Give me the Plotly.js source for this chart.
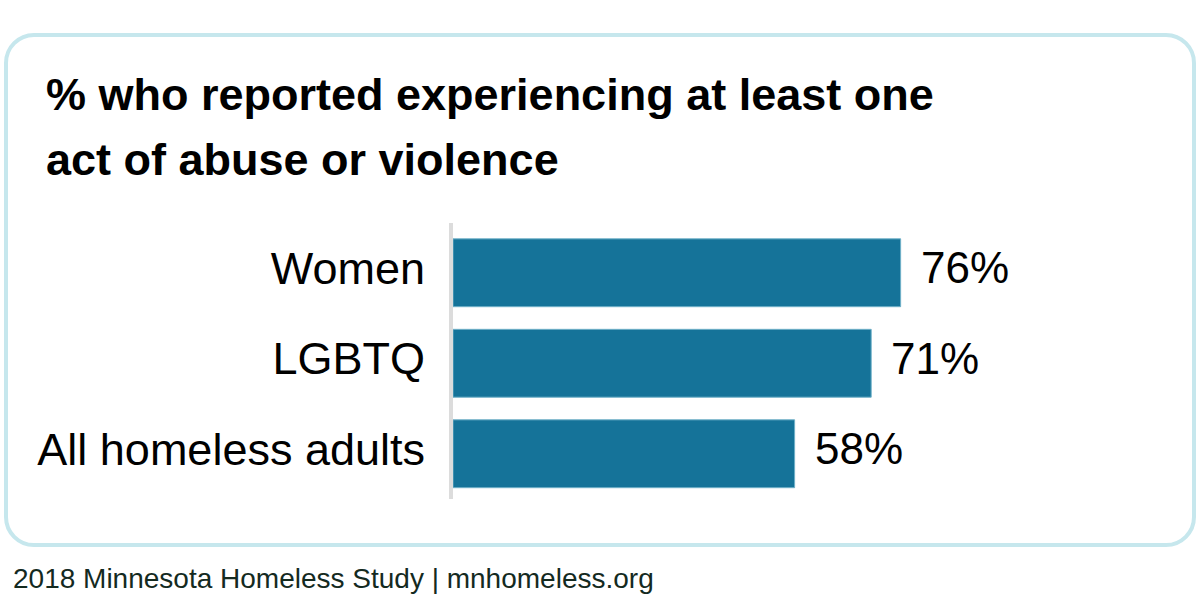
<!DOCTYPE html>
<html>
<head>
<meta charset="utf-8">
<script src="https://cdn.plot.ly/plotly-3.0.1.min.js"></script>
<style>
  html, body { margin: 0; padding: 0; background: #ffffff; }
  #wrap { position: relative; width: 1200px; height: 610px; }
  #frame {
    position: absolute; left: 4px; top: 33px; width: 1192px; height: 514px;
    box-sizing: border-box; border: 4px solid #c6e7ed; border-radius: 30px;
  }
  #chart { position: absolute; left: 0; top: 0; width: 1200px; height: 610px; }
</style>
</head>
<body>
<div id="wrap">
  <div id="frame"></div>
  <div id="chart"></div>
</div>
<script>
// Share of respondents reporting at least one act of abuse or violence
const groups = ["Women", "LGBTQ", "All homeless adults"];
const percents = [76, 71, 58];
const valueLabels = ["76%", "71%", "58%"];
const titleLines = ["% who reported experiencing at least one", "act of abuse or violence"];
const footerText = "2018 Minnesota Homeless Study | mnhomeless.org";

const W = 1200, H = 610;
const M = { l: 453, r: 157.5, t: 223, b: 111 };
const plotW = W - M.l - M.r;
const plotH = H - M.t - M.b;
const pxToPaperX = px => (px - M.l) / plotW;
const pxToPaperY = py => (H - M.b - py) / plotH;

const FONT = "Liberation Sans, Arial, Helvetica, sans-serif";

const trace = {
  type: "bar",
  orientation: "h",
  y: groups,
  x: percents,
  marker: { color: "#157399", line: { color: "#6fb0c8", width: 1 } },
  hoverinfo: "skip"
};

// Value labels placed just past the end of each bar
const valueNotes = groups.map((g, i) => ({
  x: percents[i], y: g, xref: "x", yref: "y",
  text: valueLabels[i], showarrow: false,
  xanchor: "left", xshift: 18, yshift: 5,
  font: { family: FONT, size: 44, color: "#000000" }
}));

// Two-line heading, each line placed on its own baseline
const titleCenters = [95, 159];
const titleNotes = titleLines.map((t, i) => ({
  x: pxToPaperX(44), y: pxToPaperY(titleCenters[i]), xref: "paper", yref: "paper",
  xanchor: "left", yanchor: "middle",
  text: "<b>" + t + "</b>", showarrow: false,
  font: { family: FONT, size: 45, color: "#000000" }
}));

const footer = {
  x: pxToPaperX(11), y: 0, xref: "paper", yref: "paper",
  xanchor: "left", yanchor: "top", yshift: -62,
  text: footerText,
  showarrow: false,
  font: { family: FONT, size: 28, color: "#142a1f" }
};

const layout = {
  width: W, height: H,
  margin: M,
  paper_bgcolor: "rgba(0,0,0,0)",
  plot_bgcolor: "rgba(0,0,0,0)",
  showlegend: false,
  bargap: 0.25,
  xaxis: {
    range: [0, 100], visible: false, fixedrange: true
  },
  yaxis: {
    type: "category",
    range: [2.5, -0.55],
    showline: true, linecolor: "#dcdcdc", linewidth: 4,
    showgrid: false, zeroline: false, ticks: "",
    ticklabelstandoff: 15, ticklabelshift: 5,
    tickfont: { family: FONT, size: 45, color: "#000000" },
    fixedrange: true
  },
  annotations: titleNotes.concat(valueNotes, [footer])
};

Plotly.newPlot("chart", [trace], layout, { displayModeBar: false, staticPlot: true });
</script>
</body>
</html>
